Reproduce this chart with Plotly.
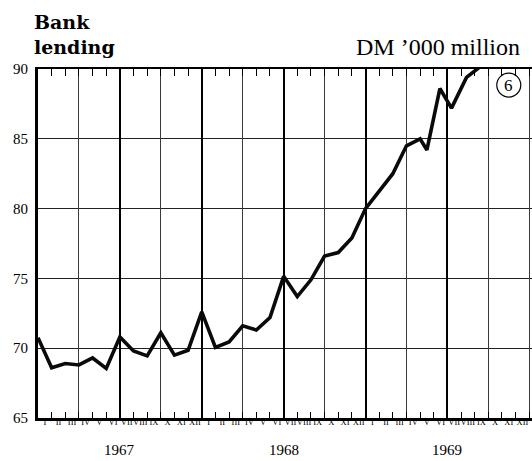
import plotly.graph_objects as go

# ---- data ----
# month position: 0 = start of Jan 1967, 1 = end of Jan 1967, ...
month_pos = [0, 1, 2, 3, 4, 5, 6, 7, 8, 9, 10, 11, 12, 13, 14, 15, 16, 17,
             18, 19, 20, 21, 22, 23, 24, 25, 26, 27, 28, 28.5, 29.45, 30.3,
             31.4, 32.45]
lending = [70.75, 68.6, 68.9, 68.8, 69.3, 68.55, 70.8, 69.8, 69.45, 71.1,
           69.5, 69.85, 72.6, 70.05, 70.45, 71.6, 71.3, 72.2, 75.15, 73.7,
           74.9, 76.6, 76.85, 77.9, 80.0, 81.2, 82.5, 84.5, 85.0, 84.2,
           88.6, 87.2, 89.4, 90.2]
roman = ["I", "II", "III", "IV", "V", "VI", "VII", "VIII", "IX", "X", "XI", "XII"]
years = ["1967", "1968", "1969"]
y_ticks = [65, 70, 75, 80, 85, 90]

month_centers = [i + 0.5 for i in range(36)]
month_text = roman * 3
year_pos = [6 + 12 * i for i in range(3)]
quarter_lines = [3, 9, 15, 21, 27, 33, 36]
half_year_lines = [6, 12, 18, 24, 30]

SERIF = "Liberation Serif"
XR = [0, 36.2]
YR = [65, 90]

fig = go.Figure()
fig.add_trace(go.Scatter(
    x=month_pos, y=lending, mode="lines",
    line=dict(color="#0a0a0a", width=3.6),
    cliponaxis=False, hoverinfo="skip", showlegend=False,
))
# empty helper traces so the overlay axes are drawn
for ax in ("x2", "x3", "x4", "x5"):
    fig.add_trace(go.Scatter(x=[], y=[], xaxis=ax, yaxis="y", mode="lines",
                             hoverinfo="skip", showlegend=False))

common = dict(range=XR, zeroline=False, fixedrange=True)

fig.update_layout(
    width=532, height=461,
    margin=dict(l=38, r=0, t=69, b=43),
    paper_bgcolor="white", plot_bgcolor="white",
    showlegend=False,
    xaxis=dict(
        tickmode="linear", tick0=0, dtick=1,
        showticklabels=False, ticks="inside", ticklen=6, tickwidth=1,
        tickcolor="black", showgrid=False,
        showline=True, linewidth=3, linecolor="black", **common,
    ),
    xaxis2=dict(
        overlaying="x", side="bottom", anchor="y",
        tickmode="array", tickvals=month_centers, ticktext=month_text,
        tickangle=0, ticks="", showgrid=False, showline=False,
        ticklabelstandoff=-3,
        tickfont=dict(family=SERIF, size=8.5, color="black"), **common,
    ),
    xaxis3=dict(
        overlaying="x", side="top", anchor="y",
        tickmode="linear", tick0=0, dtick=1,
        showticklabels=False, ticks="inside", ticklen=7, tickwidth=1,
        tickcolor="black", showgrid=False,
        showline=True, linewidth=1.5, linecolor="black", **common,
    ),
    xaxis4=dict(
        overlaying="x", anchor="y",
        tickmode="array", tickvals=quarter_lines,
        showgrid=True, gridcolor="#3a3a3a", gridwidth=1,
        showticklabels=False, ticks="", showline=False, **common,
    ),
    xaxis5=dict(
        overlaying="x", anchor="y",
        tickmode="array", tickvals=half_year_lines,
        showgrid=True, gridcolor="black", gridwidth=1.7,
        showticklabels=False, ticks="", showline=False, **common,
    ),
    yaxis=dict(
        range=YR, tickmode="array", tickvals=y_ticks,
        ticktext=[str(v) for v in y_ticks],
        showgrid=True, gridcolor="#222", gridwidth=1, zeroline=False,
        showline=True, linewidth=3, linecolor="black", ticks="",
        ticklabelstandoff=4,
        tickfont=dict(family=SERIF, size=15, color="black"),
        fixedrange=True,
    ),
)

annotations = []
for yr, xp in zip(years, year_pos):
    annotations.append(dict(
        x=xp, xref="x", y=0, yref="paper", yanchor="top", yshift=-22,
        text=yr, showarrow=False,
        font=dict(family=SERIF, size=15, color="black"),
    ))
annotations.append(dict(
    x=-0.012, xref="paper", xanchor="left", y=1, yref="paper",
    yanchor="bottom", yshift=9, align="left",
    text="<b>Bank<br>lending</b>", showarrow=False,
    font=dict(family="DejaVu Serif", size=19, color="black"),
))
annotations.append(dict(
    x=0.98, xref="paper", xanchor="right", y=1, yref="paper",
    yanchor="bottom", yshift=7,
    text="DM \u2019000 million", showarrow=False,
    font=dict(family=SERIF, size=24, color="black"),
))
annotations.append(dict(
    x=0.953, xref="paper", xanchor="center", y=0.954, yref="paper",
    yanchor="middle",
    text="6", showarrow=False,
    font=dict(family=SERIF, size=17, color="black"),
))
fig.update_layout(annotations=annotations)

fig.add_shape(
    type="circle", xref="paper", yref="paper",
    xsizemode="pixel", ysizemode="pixel",
    xanchor=0.953, yanchor=0.954,
    x0=-12, x1=12, y0=-12, y1=12,
    line=dict(color="black", width=1.2), fillcolor="rgba(0,0,0,0)", layer="above",
)

fig.write_html("out.html", post_script="document.body.style.margin='0';",
               config={"displayModeBar": False})
